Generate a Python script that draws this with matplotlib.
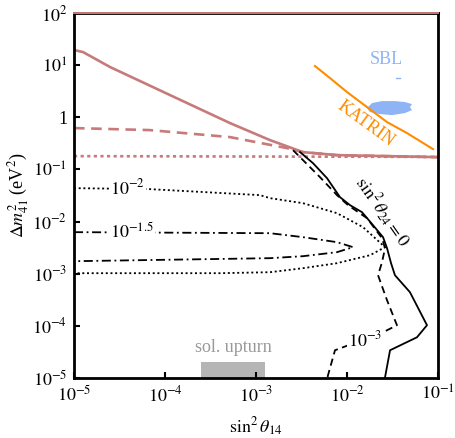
import matplotlib
matplotlib.use('Agg')
import matplotlib.pyplot as plt
import numpy as np

plt.rcParams['font.family'] = 'serif'
plt.rcParams['font.serif'] = ['Liberation Serif', 'DejaVu Serif']
plt.rcParams['mathtext.fontset'] = 'stix'

# --- data, stored as log10 values ---
# sin^2 theta_24 = 0 bound (black solid)
s0_lx = [-2.516, -2.374, -2.220, -2.077, -1.967, -1.835, -1.714, -1.604, -1.560,
         -1.516, -1.473, -1.308, -1.121, -1.231, -1.527, -1.582, -1.584]
s0_ly = [-0.668, -0.879, -1.167, -1.532, -1.685, -1.820, -2.069, -2.299, -2.511,
         -2.798, -3.029, -3.355, -3.988, -4.219, -4.468, -4.987, -5.0]
# sin^2 theta_24 = 1e-3 (black dashed)
s3_lx = [-2.593, -2.484, -2.297, -2.110, -1.989, -1.780, -1.615, -1.582, -1.615,
         -1.659, -1.560, -1.451, -1.604, -2.132, -2.209, -2.215]
s3_ly = [-0.630, -0.821, -1.148, -1.493, -1.685, -1.935, -2.319, -2.511, -2.779,
         -3.029, -3.509, -3.988, -4.123, -4.468, -4.948, -5.0]
# sin^2 theta_24 = 1e-2 (black dotted)
s2_lx = [-5.0, -4.165, -2.956, -2.846, -2.484, -2.110, -1.824, -1.582,
         -1.747, -2.110, -2.484, -2.846, -3.396, -5.0]
s2_ly = [-1.359, -1.378, -1.493, -1.551, -1.647, -1.839, -2.107, -2.491,
         -2.645, -2.798, -2.894, -2.971, -2.990, -2.990]
# sin^2 theta_24 = 10^-1.5 (black dash-dot)
s15_lx = [-5.0, -2.846, -2.484, -2.110, -1.934, -2.110, -2.484, -2.846, -5.0]
s15_ly = [-2.203, -2.223, -2.299, -2.395, -2.491, -2.587, -2.664, -2.702, -2.760]

# rosy curves
rs_lx = [-5.0, -4.901, -4.604, -3.945, -3.286, -2.846, -2.484, -2.110, -1.011, -1.0]
rs_ly = [1.290, 1.251, 0.964, 0.426, -0.111, -0.438, -0.668, -0.726, -0.764, -0.764]
rd_lx = [-5.0, -4.165, -3.286, -2.659, -2.484, -2.110, -1.011, -1.0]
rd_ly = [-0.207, -0.246, -0.380, -0.591, -0.668, -0.726, -0.764, -0.764]
rdot_lx = [-5.0, -1.0]
rdot_ly = [-0.745, -0.760]

# KATRIN
kat_lx = [-2.352, -2.187, -2.000, -1.780, -1.560, -1.341, -1.055]
kat_ly = [0.983, 0.752, 0.484, 0.196, -0.092, -0.303, -0.610]

# SBL region
sbl_lx = [-1.780, -1.725, -1.615, -1.473, -1.363, -1.286, -1.308, -1.286,
          -1.363, -1.505, -1.637, -1.747]
sbl_ly = [0.177, 0.273, 0.311, 0.311, 0.292, 0.253, 0.196, 0.138,
          0.081, 0.042, 0.061, 0.100]

# solar upturn band
sol_x = [2.5e-4, 1.26e-3]
sol_y = [1e-5, 2e-5]

xticks = [1e-5, 1e-4, 1e-3, 1e-2, 1e-1]
xtick_labels = ['$10^{-5}$', '$10^{-4}$', '$10^{-3}$', '$10^{-2}$', '$10^{-1}$']
yticks = [1e-5, 1e-4, 1e-3, 1e-2, 1e-1, 1, 1e1, 1e2]
ytick_labels = ['$10^{-5}$', '$10^{-4}$', '$10^{-3}$', '$10^{-2}$', '$10^{-1}$',
                '1', '$10^{1}$', '$10^{2}$']

p = lambda a: 10.0**np.array(a)

rosy = '#c77a7a'
orange = '#ff8c00'
sblc = '#8fb4f6'

fig = plt.figure(figsize=(4.55, 4.38), dpi=100)
ax = fig.add_axes([74/455, 1-378/438, 364/455, 365/438])
ax.set_xscale('log')
ax.set_yscale('log')

ax.plot(p(rs_lx), p(rs_ly), color=rosy, lw=1.9)
ax.plot(p(rd_lx), p(rd_ly), color=rosy, lw=1.9, dashes=(4, 2.5))
ax.plot(p(rdot_lx), p(rdot_ly), color=rosy, lw=1.9, dashes=(1.2, 1.3))
ax.plot([1e-5, 1e-1], [100, 100], color=rosy, lw=1.4, clip_on=False, zorder=5)

ax.plot(p(s0_lx), p(s0_ly), color='k', lw=1.3)
ax.plot(p(s3_lx), p(s3_ly), color='k', lw=1.3, dashes=(4, 2.5))
ax.plot(p(s2_lx), p(s2_ly), color='k', lw=1.3, dashes=(1.1, 1.5))
ax.plot(p(s15_lx), p(s15_ly), color='k', lw=1.3, dashes=(5, 2, 1, 2))

ax.plot(p(kat_lx), p(kat_ly), color=orange, lw=1.5)
ax.fill(p(sbl_lx), p(sbl_ly), color=sblc, lw=0)
ax.plot(p([-1.46, -1.42]), p([0.752, 0.752]), color=sblc, lw=1.0)

ax.fill_between(sol_x, sol_y[0], sol_y[1], color='#b5b5b5', lw=0)

lab = dict(fontsize=13, ha='center', va='center')
wb = dict(facecolor='white', edgecolor='none', pad=0.5)
ax.text(10**-4.41, 10**-1.359, '$10^{-2}$', bbox=wb, **lab)
ax.text(10**-4.36, 10**-2.203, '$10^{-1.5}$', bbox=wb, **lab)
ax.text(10**-1.80, 10**-4.276, '$10^{-3}$', bbox=wb, **lab)
ax.text(10**-1.61, 10**-1.80, r'$\sin^2\theta_{24} = 0$', rotation=-55, **lab)
ax.text(10**-1.79, 10**-0.13, 'KATRIN', color=orange, rotation=-36, **lab)
ax.text(10**-1.57, 10**1.10, 'SBL', color=sblc, **lab)
ax.text(10**-3.25, 10**-4.41, 'sol. upturn', color='#999999', **lab)

ax.set_xlim(1e-5, 1e-1)
ax.set_ylim(1e-5, 1e2)
ax.set_xticks(xticks)
ax.set_xticklabels(xtick_labels)
ax.set_yticks(yticks)
ax.set_yticklabels(ytick_labels)
ax.minorticks_off()
ax.tick_params(direction='in', length=4, width=1.5, labelsize=13, pad=5)
for s in ax.spines.values():
    s.set_linewidth(2)

ax.set_xlabel(r'$\sin^2\theta_{14}$', fontsize=13, labelpad=8)
ax.set_ylabel(r'$\Delta m^2_{41}$ (eV$^2$)', fontsize=13, labelpad=1)

fig.savefig('out.png', dpi=100)
